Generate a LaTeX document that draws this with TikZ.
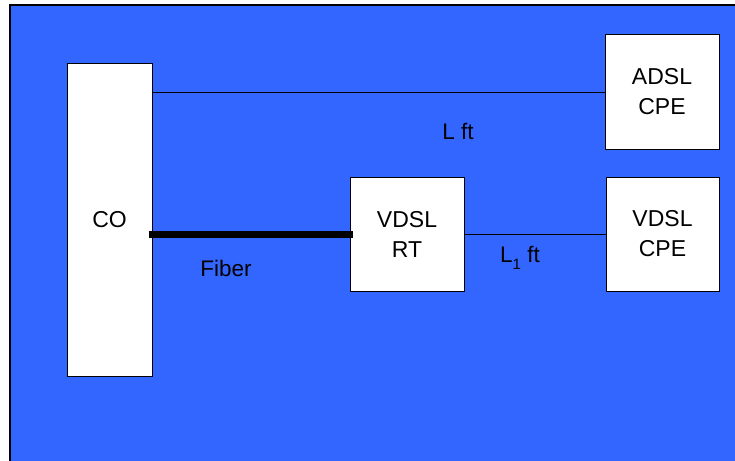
\documentclass[tikz,border=0pt]{standalone}
\usepackage{fontspec}
\setmainfont{Liberation Sans}
\definecolor{bgblue}{HTML}{3366FF}
\begin{document}
\begin{tikzpicture}[x=1pt,y=-1pt,
  box/.style={draw=black,line width=1pt,fill=white,inner sep=0pt,
    align=center,font=\fontsize{23}{30}\selectfont},
  lbl/.style={font=\fontsize{22.5}{26}\selectfont,inner sep=0pt},
  wire/.style={line width=1pt},
  fiber/.style={line width=7pt}]
\useasboundingbox (0,0) rectangle (735,460);
\fill[white] (0,0) rectangle (735,460);
\fill[bgblue] (10,5) rectangle (740,465);
\draw[line width=2.5pt] (10,465) -- (10,5) -- (740,5);
\node[box,minimum width=85pt,minimum height=313pt] (co) at (109.5,219.5) {CO};
\node[box,minimum width=114pt,minimum height=114pt] (adsl) at (662,92) {ADSL\\CPE};
\node[box,minimum width=114pt,minimum height=114pt] (rt) at (407,234) {VDSL\\RT};
\node[box,minimum width=113pt,minimum height=114pt] (vcpe) at (662.5,234) {VDSL\\CPE};
\coordinate (coA) at (co.east |- adsl.west);
\coordinate (coF) at ([xshift=-4pt]co.east |- rt.west);
\coordinate (rtF) at ([xshift=3pt]rt.west);
\draw[wire] (coA) -- (adsl.west);
\draw[wire] (rt.east) -- (vcpe.west);
\draw[fiber] (coF) -- (rtF);
\node[lbl] (lft) at (458,131) {L ft};
\node[lbl] (fib) at (226,268) {Fiber};
\node[lbl,anchor=base west] (l1ft) at (500,262) {L\raisebox{-7pt}{\fontsize{15}{15}\selectfont 1} ft};
\end{tikzpicture}
\end{document}
